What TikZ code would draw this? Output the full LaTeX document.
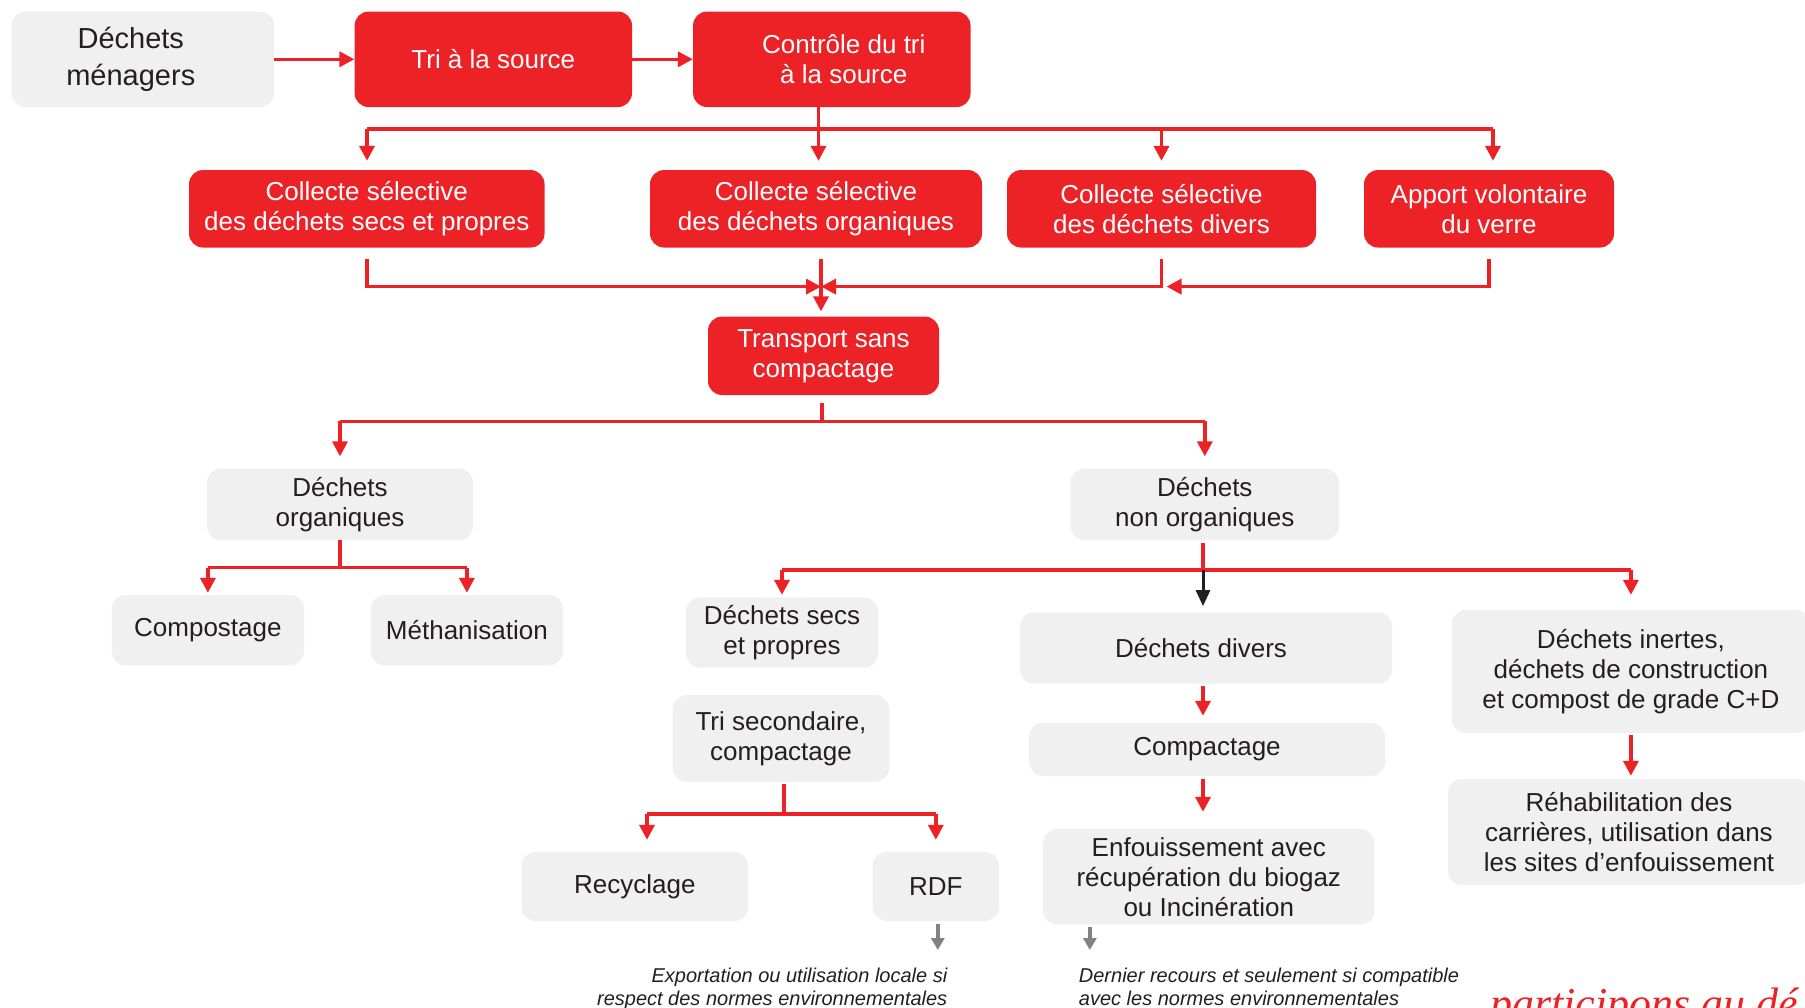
\documentclass[tikz,border=0pt]{standalone}
\usepackage{fontspec}
\setmainfont{Liberation Sans}
\newfontfamily\handf{Liberation Serif}
\usetikzlibrary{arrows.meta}
\definecolor{myred}{HTML}{EC2227}
\definecolor{mygray}{HTML}{F0F0F0}
\definecolor{mytext}{HTML}{231F20}
\definecolor{arrgray}{HTML}{808285}
\begin{document}
\begin{tikzpicture}[x=1pt,y=-1pt,
  boxbase/.style={rounded corners=14pt, align=center, inner sep=0pt, font=\fontsize{26}{30}\selectfont},
  redbox/.style={boxbase, fill=myred, text=white},
  graybox/.style={boxbase, fill=mygray, text=mytext},
  rl/.style={draw=myred, line width=3.5pt},
  ra/.style={rl, -{Triangle[width=15pt,length=15pt]}},
  ka/.style={draw=mytext, line width=3pt, -{Triangle[width=14pt,length=16pt]}},
  ga/.style={draw=arrgray, line width=3.5pt, -{Triangle[width=13pt,length=12pt]}},
  note/.style={inner sep=0pt, text=mytext, font=\itshape\fontsize{20}{23}\selectfont},
]
\clip (0,0) rectangle (1805,1008);
\fill[white] (0,0) rectangle (1805,1008);

% row 1
\node[graybox, font=\fontsize{29}{37}\selectfont, minimum width=262.5, minimum height=95.5] (menagers) at (142.8,59.3) {\hspace*{-24pt}Déchets\\\hspace*{-24pt}ménagers};
\node[redbox, minimum width=277.4, minimum height=95.5] (tri) at (493.3,59.3) {Tri à la source};
\node[redbox, minimum width=277.5, minimum height=95.5] (controle) at (831.8,59.3) {\hspace*{24pt}Contrôle du tri\\\hspace*{24pt}à la source};

% row 2
\node[redbox, minimum width=355.5, minimum height=77.5] (cs) at (366.8,208.8) {Collecte sélective\\des déchets secs et propres};
\node[redbox, minimum width=332, minimum height=77.5] (co) at (816,208.8) {Collecte sélective\\des déchets organiques};
\node[redbox, minimum width=309, minimum height=77.5] (cd) at (1161.5,208.8) {Collecte sélective\\des déchets divers};
\node[redbox, minimum width=250, minimum height=77.5] (av) at (1489,208.8) {Apport volontaire\\du verre};

% transport
\node[redbox, minimum width=231, minimum height=78.4] (transport) at (823.5,355.8) {Transport sans\\compactage};

% level 4
\node[graybox, minimum width=266, minimum height=71.5] (dorg) at (340,504.3) {Déchets\\organiques};
\node[graybox, minimum width=268.4, minimum height=71.5] (dnorg) at (1204.8,504.3) {Déchets\\non organiques};

% level 5
\node[graybox, minimum width=192.3, minimum height=70.4] (compost) at (207.9,630.2) {Compostage};
\node[graybox, minimum width=192.3, minimum height=70.4] (metha) at (466.9,630.2) {Méthanisation};
\node[graybox, minimum width=192, minimum height=70.2] (dsecs) at (782,632.6) {Déchets secs\\et propres};
\node[graybox, minimum width=372, minimum height=71.3] (ddivers) at (1206,648) {\hspace*{-10pt}Déchets divers};
\node[graybox, minimum width=358.3, minimum height=123] (inertes) at (1630.9,671.5) {Déchets inertes,\\déchets de construction\\et compost de grade C+D};

% lower
\node[graybox, minimum width=216.6, minimum height=86.7] (trisec) at (781,738.4) {Tri secondaire,\\compactage};
\node[graybox, minimum width=226.5, minimum height=69] (recyc) at (634.8,886.5) {Recyclage};
\node[graybox, minimum width=126.4, minimum height=69] (rdf) at (935.8,886.5) {RDF};
\node[graybox, minimum width=356, minimum height=53] (compact) at (1207,749.5) {Compactage};
\node[graybox, minimum width=331.5, minimum height=95.5] (enfouis) at (1208.8,876.8) {Enfouissement avec\\récupération du biogaz\\ou Incinération};
\node[graybox, minimum width=362, minimum height=106] (rehab) at (1629,832) {Réhabilitation des\\carrières, utilisation dans\\les sites d’enfouissement};

% notes
\node[note, anchor=north east, align=right] (note1) at (947.5,968) {Exportation ou utilisation locale si\\respect des normes environnementales};
\node[note, anchor=north west, align=left] (note2) at (1078.7,968) {Dernier recours et seulement si compatible\\avec les normes environnementales};
\node[anchor=base west, inner sep=0pt, text=myred, font=\handf\itshape\fontsize{44}{44}\selectfont] (slogan) at (1490,1018) {participons au dé};

% connectors row 1
\draw[ra] (menagers.east) -- (tri.west);
\draw[ra] (tri.east) -- (controle.west);

% distribution to collectes
\coordinate (b1) at (818.5,129);
\coordinate (b1l) at (367,129);
\coordinate (b1r) at (1493,129);
\draw[rl] (controle.south -| b1) -- (b1);
\draw[rl] (b1l) -- (b1r);
\draw[ra, shorten >=9pt] (b1l) -- (b1l |- cs.north);
\draw[ra, shorten >=9pt] (b1) -- (b1 |- co.north);
\draw[ra, shorten >=9pt] (cd.north |- b1) -- (cd.north);
\draw[ra, shorten >=9pt] (b1r) -- (b1r |- av.north);

% merge to transport
\coordinate (m) at (821,286.6);
\draw[ra] ([yshift=-11.5pt]cs.south) |- (m);
\draw[ra] ([yshift=-11.5pt]cd.south) |- (m);
\draw[ra, shorten >=5pt] ([yshift=-11.5pt]av.south) |- (cd.south |- m);
\draw[ra, shorten >=5pt] ([yshift=-11.5pt]co.south -| m) -- (transport.north -| m);

% transport split
\coordinate (b2) at (822,421.3);
\draw[rl] ([yshift=-8pt]transport.south -| b2) -- (b2);
\draw[rl] (dorg.north |- b2) -- (dnorg.north |- b2);
\draw[ra, shorten >=12pt] (dorg.north |- b2) -- (dorg.north);
\draw[ra, shorten >=12pt] (dnorg.north |- b2) -- (dnorg.north);

% organiques split
\coordinate (b3) at (339.6,567.5);
\draw[rl] (dorg.south) -- (dorg.south |- b3);
\draw[rl] (compost.north |- b3) -- (metha.north |- b3);
\draw[ra, shorten >=2pt] (compost.north |- b3) -- (compost.north);
\draw[ra, shorten >=2pt] (metha.north |- b3) -- (metha.north);

% non organiques split
\coordinate (b4) at (1203,570);
\draw[rl] ([yshift=-3pt]dnorg.south -| b4) -- (b4);
\draw[rl] (dsecs.north |- b4) -- (inertes.north |- b4);
\draw[ra, shorten >=2.5pt] (dsecs.north |- b4) -- (dsecs.north);
\draw[ra, shorten >=15pt] (inertes.north |- b4) -- (inertes.north);
\draw[ka, shorten >=6pt] (b4) -- (b4 |- ddivers.north);

% divers chain
\draw[ra, shorten >=7pt] ([yshift=-2pt]ddivers.south -| b4) -- (b4 |- compact.north);
\draw[ra, shorten >=17pt] ([yshift=-3pt]compact.south -| b4) -- (b4 |- enfouis.north);
\draw[ra, shorten >=3pt] ([yshift=-1.5pt]inertes.south) -- (inertes.south |- rehab.north);

% tri secondaire split
\coordinate (b5) at (784,814);
\draw[rl] ([yshift=-2.5pt]trisec.south -| b5) -- (b5);
\coordinate (b5l) at (647,814);
\draw[rl] (b5l) -- (rdf.north |- b5);
\draw[ra, shorten >=12pt] (b5l) -- (b5l |- recyc.north);
\draw[ra, shorten >=12pt] (rdf.north |- b5) -- (rdf.north);

% gray arrows to notes
\draw[ga, shorten >=18pt] ([xshift=2pt,yshift=-3pt]rdf.south) -- ([xshift=2pt]rdf.south |- note1.north);
\draw[ga, shorten >=18pt] ([xshift=47pt,yshift=-2.5pt]enfouis.south west) -- ([xshift=47pt]enfouis.south west |- note2.north);
\end{tikzpicture}
\end{document}
